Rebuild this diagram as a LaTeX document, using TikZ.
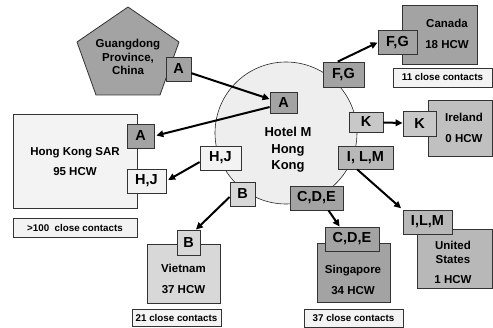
\documentclass[tikz,border=0pt]{standalone}
\usepackage{fontspec}
\setmainfont{Liberation Sans}
\usetikzlibrary{arrows.meta}
\definecolor{darkgr}{HTML}{A3A3A3}
\definecolor{midgr}{HTML}{B8B8B8}
\definecolor{irlgr}{HTML}{C0C0C0}
\definecolor{kgr}{HTML}{C8C8C8}
\definecolor{vngr}{HTML}{D8D8D8}
\definecolor{lightgr}{HTML}{F3F3F3}
\definecolor{circgr}{HTML}{EEEEEE}

\begin{document}
\begin{tikzpicture}[x=1pt, y=-1pt, >={Triangle[length=7pt,width=6.5pt]},
  box/.style={draw=black!80, line width=0.8pt, inner sep=0pt},
  tag/.style={box, font=\fontsize{14.5}{16}\selectfont\bfseries},
  lbl/.style={align=center, font=\fontsize{11.5}{21}\selectfont\bfseries},
  cc/.style={box, fill=lightgr, font=\fontsize{9.8}{11}\selectfont\bfseries},
  link/.style={->, line width=2pt}]
\useasboundingbox (0,0) rectangle (493,328);

% hotel in the middle
\node[circle, draw=black!85, line width=0.6pt, fill=circgr, minimum size=142] (hotel) at (286,133) {};
\node[lbl, font=\fontsize{13}{16.5}\selectfont\bfseries] (hoteltxt) at (288,150) {Hotel M\\Hong\\Kong};

% Guangdong
\filldraw[fill=darkgr, draw=black!80, line width=0.8pt] (128,7) -- (179,42) -- (160,95) -- (96,95) -- (77,42) -- cycle;
\node[lbl, font=\fontsize{11.5}{13.5}\selectfont\bfseries] (gdlbl) at (128,57) {Guangdong\\Province,\\China};

% destination boxes
\node[box, fill=lightgr, minimum width=124, minimum height=94] (hksar) at (75,161) {};
\node[lbl, font=\fontsize{11.5}{20}\selectfont\bfseries] (hksarlbl) at (75,162) {Hong Kong SAR\\95 HCW};
\node[cc, minimum width=124, minimum height=19] (hkcc) at (75,227.5) {>100\ \ close contacts};

\node[box, fill=vngr, minimum width=73, minimum height=59] (vietnam) at (183.5,273.5) {};
\node[lbl] (vnlbl) at (183.5,279) {Vietnam\\37 HCW};
\node[cc, minimum width=89, minimum height=17] (vncc) at (176.5,318) {21 close contacts};

\node[box, fill=darkgr, minimum width=73, minimum height=59] (singapore) at (353.5,272.5) {};
\node[lbl] (sglbl) at (353,279.5) {Singapore\\34 HCW};
\node[cc, minimum width=99, minimum height=18] (sgcc) at (353.5,318) {37 close contacts};

\node[box, fill=midgr, minimum width=75, minimum height=59] (usa) at (454.5,258.5) {};
\node[lbl, font=\fontsize{11.5}{14}\selectfont\bfseries] (uslbl) at (453,262) {United\\States\\[6pt]1 HCW};

\node[box, fill=irlgr, minimum width=64, minimum height=56] (ireland) at (460,128) {};
\node[lbl] (irlbl) at (464,127.5) {Ireland\\0 HCW};

\node[box, fill=darkgr, minimum width=75, minimum height=59] (canada) at (439.5,34.5) {};
\node[lbl] (calbl) at (447,34) {Canada\\18 HCW};
\node[cc, minimum width=99, minimum height=19] (cacc) at (442.5,77.5) {11 close contacts};

% case tags on the hotel
\node[tag, fill=darkgr, minimum width=27, minimum height=21] (hmA) at (283.5,102.5) {A};
\node[tag, fill=darkgr, minimum width=41, minimum height=25] (hmFG) at (343.5,74.5) {F,G};
\node[tag, fill=kgr, minimum width=34, minimum height=20] (hmK) at (366,122) {K};
\node[tag, fill=midgr, minimum width=55, minimum height=23] (hmILM) at (365.5,157.5) {I, L,M};
\node[tag, fill=lightgr, minimum width=41, minimum height=24] (hmHJ) at (220.5,158) {H,J};
\node[tag, fill=vngr, minimum width=25, minimum height=24] (hmB) at (242.5,194) {B};
\node[tag, fill=darkgr, minimum width=53, minimum height=24] (hmCDE) at (316.5,198) {C,D,E};

% case tags at the destinations
\node[tag, fill=darkgr, minimum width=25, minimum height=24] (gdA) at (178.5,69) {A};
\node[tag, fill=darkgr, minimum width=27, minimum height=24] (hkA) at (140.5,136) {A};
\node[tag, fill=lightgr, minimum width=39, minimum height=24] (hkHJ) at (146.5,181) {H,J};
\node[tag, fill=vngr, minimum width=23, minimum height=25] (vnB) at (188.5,242.5) {B};
\node[tag, fill=darkgr, minimum width=54, minimum height=24] (sgCDE) at (352,239) {C,D,E};
\node[tag, fill=midgr, minimum width=49, minimum height=24] (usILM) at (427.5,222) {I,L,M};
\node[tag, fill=kgr, minimum width=33, minimum height=25] (irK) at (419.5,123.5) {K};
\node[tag, fill=darkgr, minimum width=39, minimum height=24] (caFG) at (397.5,42.5) {F,G};

% spread
\draw[link] (gdA.-18) -- (hmA.166);
\draw[link, shorten >=2pt] (hmA.198) -- (hkA.east);
\draw[link, shorten >=2pt] (hmHJ.191) -- (hkHJ.east);
\draw[link] (hmB.193) -- (vnB.60);
\draw[link] (hmCDE.-46) -- (sgCDE.135);
\draw[link, shorten >=2pt] (hmILM.-125) -- (usILM.north west);
\draw[link] (hmK) -- (irK);
\draw[link] (hmFG.114) -- (caFG.west);
\end{tikzpicture}
\end{document}
